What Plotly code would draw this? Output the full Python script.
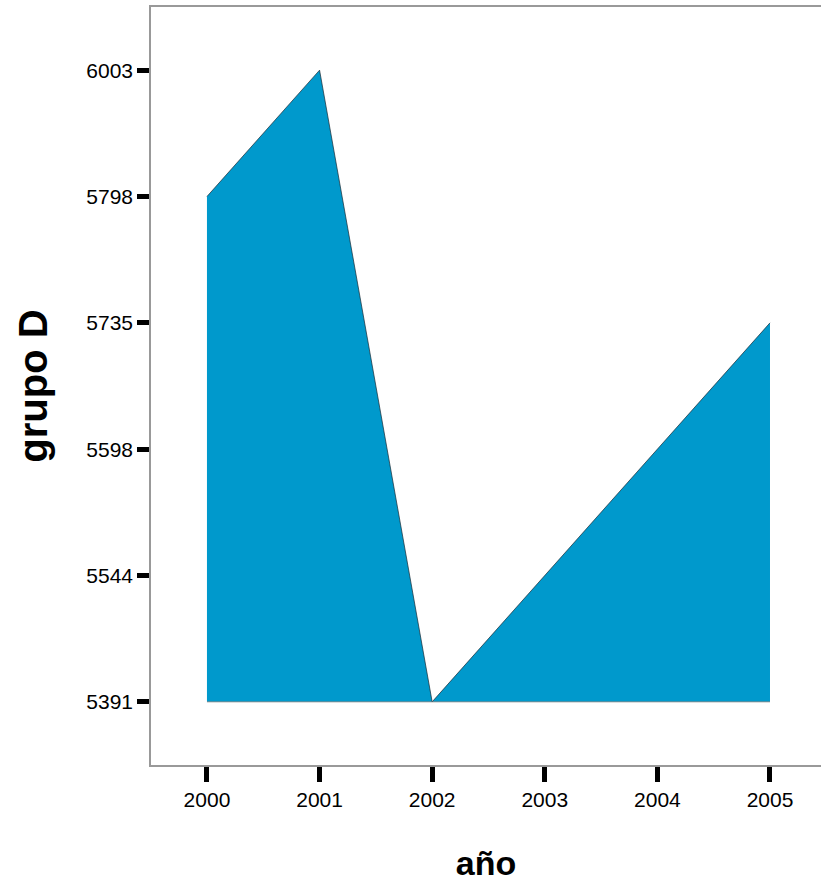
import plotly.graph_objects as go

years = [2000, 2001, 2002, 2003, 2004, 2005]
values = [5798, 6003, 5391, 5544, 5598, 5735]
y_labels = [str(v) for v in sorted(values)]

fill_color = "#0099CC"

fig = go.Figure()
fig.add_trace(go.Scatter(
    x=years, y=[str(v) for v in values],
    mode="lines", fill="tozeroy", fillcolor=fill_color,
    line=dict(color="#1a2a33", width=0.7),
    hoverinfo="skip", showlegend=False,
))
fig.add_trace(go.Scatter(
    x=years, y=[y_labels[0]] * len(years),
    mode="lines", line=dict(color="#6a6a6a", width=0.7),
    hoverinfo="skip", showlegend=False,
))

tick_font = dict(family="Liberation Sans, Arial, sans-serif", size=21, color="black")
title_font = dict(family="Liberation Sans, Arial, sans-serif", color="black")

fig.update_layout(
    width=821, height=882,
    margin=dict(l=151, r=0, t=7, b=117),
    paper_bgcolor="white", plot_bgcolor="white",
    xaxis=dict(
        range=[1999.503, 2005.453],
        tickmode="array", tickvals=years, ticktext=[str(y) for y in years],
        ticks="outside", ticklen=15, tickwidth=5, tickcolor="black",
        tickfont=tick_font,
        showgrid=False, zeroline=False,
        showline=True, linecolor="#999999", linewidth=1.5, mirror=True,
        title=dict(text="<b>año</b>", font=dict(size=34, **title_font), standoff=44),
    ),
    yaxis=dict(
        type="category", categoryorder="array", categoryarray=y_labels,
        range=[-0.5, 5.5],
        ticks="outside", ticklen=12, tickwidth=5, tickcolor="black",
        tickfont=tick_font,
        showgrid=False, zeroline=False,
        showline=True, linecolor="#999999", linewidth=1.5,
        title=dict(text="<b>grupo D</b>", font=dict(size=40, **title_font), standoff=26),
    ),
)

fig.write_html(
    "out.html",
    config={"displayModeBar": False},
    post_script="document.body.style.margin='0';document.body.style.overflow='hidden';",
)
